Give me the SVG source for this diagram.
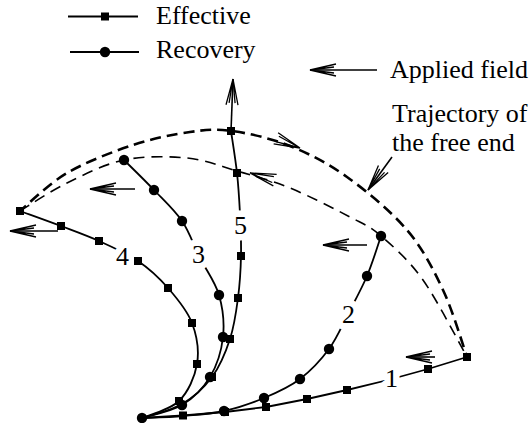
<svg xmlns="http://www.w3.org/2000/svg" xmlns:xlink="http://www.w3.org/1999/xlink" width="531" height="423" viewBox="0 0 531 423">
<style>
.t{font-family:"Liberation Serif","Times New Roman",serif;font-size:26px;fill:#000}
.lbl{font-family:"Liberation Serif","Times New Roman",serif;font-size:26px;fill:#000;text-anchor:middle;stroke:#fff;stroke-width:13;stroke-linejoin:round;paint-order:stroke}
.cv{fill:none;stroke:#000;stroke-width:1.8;stroke-linejoin:round}
.outer{fill:none;stroke:#000;stroke-width:2.6;stroke-dasharray:11 6}
.inner{fill:none;stroke:#000;stroke-width:1.6;stroke-dasharray:11 7}
.ar{fill:none;stroke:#000;stroke-width:1.6}
.hd{fill:none;stroke:#000;stroke-width:1.3;stroke-linejoin:miter}
</style>
<defs>
<rect id="sq" x="-4" y="-4" width="8" height="8" fill="#000"/>
<circle id="ci" r="5.2" fill="#000"/>
<path id="head" class="hd" d="M-26,-6 L0,0 L-26,6 M-24,-3 L0,0 L-24,3"/>
<marker id="arr" markerUnits="userSpaceOnUse" markerWidth="30" markerHeight="16" viewBox="-28 -8 30 16" refX="0" refY="0" orient="auto" overflow="visible">
<path d="M-26,-6 L0,0 L-26,6 M-24,-3 L0,0 L-24,3" fill="none" stroke="#000" stroke-width="1.3"/>
</marker>
</defs>

<g id="legend">
<g id="legend-effective">
<line x1="68" y1="16.5" x2="138" y2="16.5" stroke="#000" stroke-width="1.8"/>
<use href="#sq" x="105" y="16.5"/>
<text class="t" x="156" y="24">Effective</text>
</g>
<g id="legend-recovery">
<line x1="70" y1="52" x2="139" y2="52" stroke="#000" stroke-width="1.8"/>
<use href="#ci" x="105" y="52"/>
<text class="t" x="156" y="58">Recovery</text>
</g>
</g>

<g id="trajectories">
<path id="arc-outer" class="outer" d="M18,213 L20,211 C27.8,204.7 48.2,184 67,173 C85.8,162 112.5,151.8 133,145 C153.5,138.2 173.5,134.3 190,132 C206.5,129.7 215.3,128.7 232,131 C248.7,133.3 270.8,138.3 290,146 C309.2,153.7 327.5,163 347,177 C366.5,191 391,211.2 407,230 C423,248.8 433,268.8 443,290 C453,311.2 463,345.8 467,357"/>
<path id="arc-inner" class="inner" d="M20,211 C27.8,206.3 49.7,191.5 67,183 C84.3,174.5 104,164.2 124,160 C144,155.8 168.2,156.2 187,158 C205.8,159.8 219.8,166 237,171 C254.2,176 271.2,180.3 290,188 C308.8,195.7 334.8,209 350,217 C365.2,225 368.8,225.5 381,236 C393.2,246.5 408.7,259.8 423,280 C437.3,300.2 459.7,344.2 467,357"/>
</g>

<g id="connectors">
<path id="curve-1" class="cv" d="M142,418 L183,415.5 L225,412 L266,407 L307,399 L347,390 L388,380 L428,369 L467,357"/>
<path id="curve-2" class="cv" d="M142,418 C148.8,417.7 169.3,417.2 183,416 C196.7,414.8 210.5,414 224,411 C237.5,408 251.3,403.3 264,398 C276.7,392.7 289.2,387.2 300,379 C310.8,370.8 321,359.8 329,349 C337,338.2 341.7,326.2 348,314 C354.3,301.8 361.5,289 367,276 C372.5,263 378.7,242.7 381,236"/>
<path id="curve-3" class="cv" d="M124,160 C129,165 144.3,179.8 154,190 C163.7,200.2 174.3,209.7 182,221 C189.7,232.3 193.8,245.7 200,258 C206.2,270.3 215.2,281.8 219,295 C222.8,308.2 224.5,323.3 223,337 C221.5,350.7 216.8,365.7 210,377 C203.2,388.3 193.3,398.2 182,405 C170.7,411.8 148.7,415.8 142,418"/>
<path id="curve-4" class="cv" d="M20,211 C26.8,213.5 47.8,221 61,226 C74.2,231 86.2,235.2 99,241 C111.8,246.8 126.5,253.2 138,261 C149.5,268.8 159,277.7 168,288 C177,298.3 187.2,310.3 192,323 C196.8,335.7 199.2,351 197,364 C194.8,377 188.2,392 179,401 C169.8,410 148.2,415.2 142,418"/>
<path id="curve-5" class="cv" d="M231,131 C232,138 235.5,159.2 237,173 C238.5,186.8 239.3,200.2 240,214 C240.7,227.8 241.3,242 241,256 C240.7,270 239.8,284.2 238,298 C236.2,311.8 234.3,325.8 230,339 C225.7,352.2 220,366.2 212,377 C204,387.8 193.7,397.2 182,404 C170.3,410.8 148.7,415.7 142,418"/>
</g>

<g id="labels">
<text class="lbl" x="391.5" y="387">1</text>
<text class="lbl" x="348.5" y="323">2</text>
<text class="lbl" x="198.5" y="263">3</text>
<text class="lbl" x="122.5" y="265">4</text>
<text class="lbl" x="240.5" y="234">5</text>
</g>

<g id="points">
<g id="points-1">
<use href="#sq" x="183" y="415.5"/><use href="#sq" x="225" y="412"/><use href="#sq" x="266" y="407"/><use href="#sq" x="307" y="399"/><use href="#sq" x="347" y="390"/><use href="#sq" x="428" y="369"/><use href="#sq" x="467" y="357"/>
</g>
<g id="points-4">
<use href="#sq" x="20" y="211"/><use href="#sq" x="61" y="226"/><use href="#sq" x="99" y="241"/><use href="#sq" x="138" y="261"/><use href="#sq" x="168" y="288"/><use href="#sq" x="192" y="323"/><use href="#sq" x="197" y="364"/><use href="#sq" x="179" y="401"/>
</g>
<g id="points-5">
<use href="#sq" x="231" y="131"/><use href="#sq" x="237" y="173"/><use href="#sq" x="241" y="256"/><use href="#sq" x="238" y="298"/><use href="#sq" x="230" y="339"/><use href="#sq" x="212" y="377"/>
</g>
<g id="points-2">
<use href="#ci" x="142" y="418"/><use href="#ci" x="224" y="411"/><use href="#ci" x="264" y="398"/><use href="#ci" x="300" y="379"/><use href="#ci" x="329" y="349"/><use href="#ci" x="367" y="276"/><use href="#ci" x="381" y="236"/>
</g>
<g id="points-3">
<use href="#ci" x="124" y="160"/><use href="#ci" x="154" y="190"/><use href="#ci" x="182" y="221"/><use href="#ci" x="219" y="295"/><use href="#ci" x="223" y="337"/><use href="#ci" x="210" y="377"/><use href="#ci" x="182" y="405"/>
</g>
</g>

<g id="arrows">
<line class="ar" x1="377" y1="70" x2="310" y2="70" marker-end="url(#arr)"/>
<line class="ar" x1="435" y1="357" x2="406" y2="357" marker-end="url(#arr)"/>
<line class="ar" x1="367" y1="245" x2="323" y2="245" marker-end="url(#arr)"/>
<line class="ar" x1="135" y1="189" x2="90" y2="189" marker-end="url(#arr)"/>
<line class="ar" x1="58" y1="231" x2="10" y2="231" marker-end="url(#arr)"/>
<line class="ar" x1="231" y1="131" x2="233" y2="79" marker-end="url(#arr)"/>
<line class="ar" x1="392" y1="157" x2="368" y2="190" marker-end="url(#arr)"/>
<use href="#head" transform="translate(300,148) rotate(22)"/>
<use href="#head" transform="translate(250,173) rotate(196)"/>
</g>

<g id="annotations">
<text class="t" x="390" y="78">Applied field</text>
<text class="t" x="392" y="122">Trajectory of</text>
<text class="t" x="392" y="151">the free end</text>
</g>
</svg>
